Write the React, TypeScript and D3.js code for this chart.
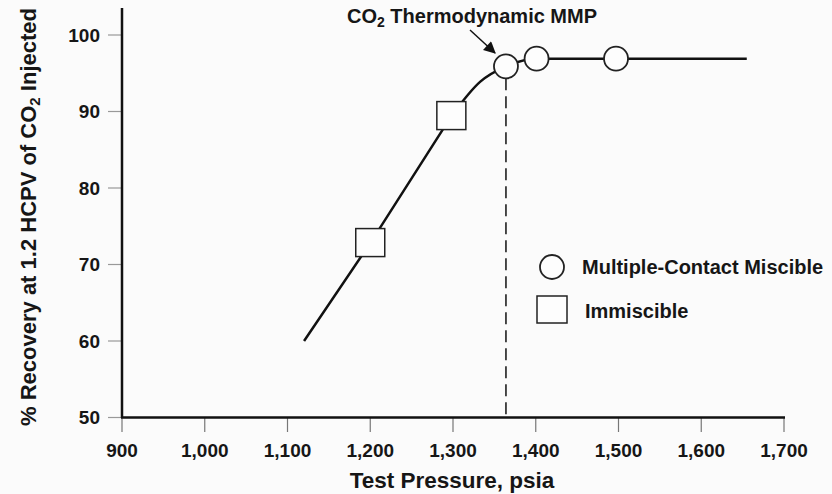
import React from "react";
import * as d3 from "d3";

const xTicks = [900, 1000, 1100, 1200, 1300, 1400, 1500, 1600, 1700];
const yTicks = [50, 60, 70, 80, 90, 100];
// straight lower part of the trend line
const lowerPressure = [1120, 1200, 1298];
const lowerRecovery = [60, 72.8, 89.4];
// curved upper part and plateau
const upperPressure = [1298, 1333, 1364, 1401, 1497, 1655];
const upperRecovery = [89.4, 93.9, 95.9, 96.9, 96.9, 96.9];
const immiscibleP = [1200, 1298];
const immiscibleR = [72.8, 89.4];
const miscibleP = [1364, 1401, 1497];
const miscibleR = [95.9, 96.9, 96.9];
const mmpPressure = 1364;

const W = 832;
const H = 494;
const FONT = "'Liberation Sans', Arial, sans-serif";
const INK = "#161616";

export default function App() {
  const x = d3.scaleLinear().domain([900, 1700]).range([122, 784]);
  const y = d3.scaleLinear().domain([50, 100]).range([417.5, 35]);
  const lowerPts: [number, number][] = lowerPressure.map((p, i) => [x(p), y(lowerRecovery[i])]);
  const upperPts: [number, number][] = upperPressure.map((p, i) => [x(p), y(upperRecovery[i])]);
  const lowerLine = d3.line()(lowerPts) || "";
  const upperLine = d3.line().curve(d3.curveMonotoneX)(upperPts) || "";
  const fmt = d3.format(",");
  const mmpX = x(mmpPressure);
  const sq = 29;
  const r = 12;
  return (
    <svg width={W} height={H} style={{ position: "fixed", left: 0, top: 0, background: "#fbfbfb" }} fontFamily={FONT}>
      <rect x={0} y={0} width={W} height={H} fill="#fbfbfb" />
      {/* y ticks */}
      {yTicks.map((t) => (
        <g key={"y" + t}>
          <line x1={108} x2={122} y1={y(t)} y2={y(t)} stroke="#999" strokeWidth={1.2} />
          <text x={100} y={y(t)} dy="0.36em" textAnchor="end" fontSize={19} fontWeight="bold" fill={INK}>{t}</text>
        </g>
      ))}
      {/* x ticks */}
      {xTicks.map((t) => (
        <g key={"x" + t}>
          <line x1={x(t)} x2={x(t)} y1={417} y2={432} stroke="#777" strokeWidth={1.2} />
          <text x={x(t)} y={457} textAnchor="middle" fontSize={19} fontWeight="bold" fill={INK}>{fmt(t)}</text>
        </g>
      ))}
      {/* axes */}
      <line x1={122} x2={122} y1={8} y2={418} stroke="#111" strokeWidth={2.5} />
      <line x1={121} x2={785} y1={417.5} y2={417.5} stroke="#111" strokeWidth={2.5} />
      {/* dashed MMP line */}
      <line x1={mmpX} x2={mmpX} y1={y(95.9) + r} y2={417} stroke="#111" strokeWidth={1.5} strokeDasharray="12,6" />
      {/* trend line */}
      <path d={lowerLine} fill="none" stroke="#111" strokeWidth={2.5} />
      <path d={upperLine} fill="none" stroke="#111" strokeWidth={2.5} />
      {/* immiscible squares */}
      {immiscibleP.map((p, i) => (
        <rect key={"s" + i} x={x(p) - sq / 2} y={y(immiscibleR[i]) - sq / 2} width={sq} height={sq - 1} fill="#fdfdfd" stroke="#222" strokeWidth={1.5} />
      ))}
      {/* miscible circles */}
      {miscibleP.map((p, i) => (
        <circle key={"c" + i} cx={x(p)} cy={y(miscibleR[i])} r={r} fill="#fdfdfd" stroke="#222" strokeWidth={1.8} />
      ))}
      {/* annotation */}
      <text x={472} y={23} textAnchor="middle" fontSize={20} fontWeight="bold" fill={INK}>
        CO<tspan fontSize={14} dy={4}>2</tspan><tspan dy={-4}> Thermodynamic MMP</tspan>
      </text>
      <defs>
        <marker id="ah" viewBox="0 0 10 10" refX={9} refY={5} markerWidth={14} markerHeight={12} markerUnits="userSpaceOnUse" orient="auto">
          <path d="M0,0 L10,5 L0,10 z" fill="#111" />
        </marker>
      </defs>
      <line x1={470} y1={30} x2={495} y2={53} stroke="#111" strokeWidth={1.5} markerEnd="url(#ah)" />
      {/* legend */}
      <circle cx={552} cy={267} r={r} fill="#fdfdfd" stroke="#222" strokeWidth={1.8} />
      <text x={582} y={267} dy="0.36em" fontSize={20} fontWeight="bold" fill={INK}>Multiple-Contact Miscible</text>
      <rect x={537} y={296} width={30} height={27} fill="#fdfdfd" stroke="#222" strokeWidth={1.5} />
      <text x={585} y={311} dy="0.36em" fontSize={20} fontWeight="bold" fill={INK}>Immiscible</text>
      {/* axis titles */}
      <text x={452} y={488} textAnchor="middle" fontSize={22.5} fontWeight="bold" fill={INK}>Test Pressure, psia</text>
      <text transform="translate(36,217) rotate(-90)" textAnchor="middle" fontSize={22} fontWeight="bold" fill={INK}>
        % Recovery at 1.2 HCPV of CO<tspan fontSize={15} dy={4}>2</tspan><tspan dy={-4}> Injected</tspan>
      </text>
    </svg>
  );
}
